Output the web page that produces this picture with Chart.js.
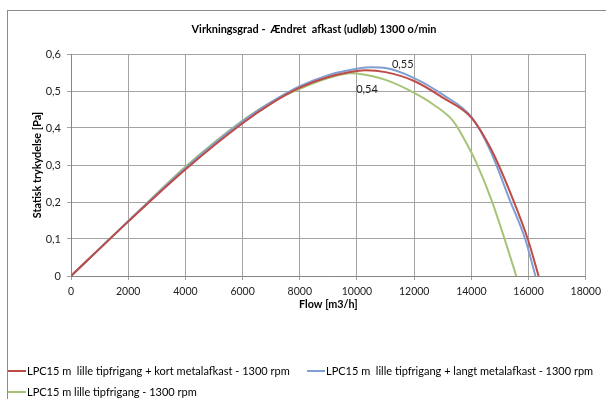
<!DOCTYPE html>
<html><head><meta charset="utf-8">
<script src="https://cdn.jsdelivr.net/npm/chart.js@4"></script>
<style>
html,body{margin:0;padding:0;background:#fff;}
#wrap{position:relative;width:606px;height:399px;overflow:hidden;background:#fff;}
#frame{position:absolute;left:7px;top:10px;width:640px;height:440px;border-left:1px solid #8c8c8c;border-top:1px solid #8c8c8c;}
canvas{position:absolute;left:0;top:0;}
.txt{position:absolute;font-family:Lato,"Open Sans",sans-serif;white-space:pre;color:#000;line-height:12px;}
#title{left:0;width:628px;text-align:center;top:23px;font-size:10.9px;font-weight:bold;}
.leg{font-size:11px;display:flex;align-items:center;height:12px;}
.leg i{display:inline-block;width:18px;height:2px;margin-right:1px;}
</style></head>
<body>
<div id="wrap">
  <div id="frame"></div>
  <canvas id="c" width="606" height="399"></canvas>
  <div id="title" class="txt"></div>
  <div id="legend"></div>
</div>
<script>
// ---- data ----
const seriesNames = [
  'LPC15 m  lille tipfrigang + kort metalafkast - 1300 rpm',
  'LPC15 m  lille tipfrigang + langt metalafkast - 1300 rpm',
  'LPC15 m lille tipfrigang - 1300 rpm'
];
const redFlow  = [0, 2000, 4000, 6000, 7000, 8000, 9000, 10000, 10300, 11000, 12000, 13000, 14000, 14700, 15460, 15980, 16350];
const redEff   = [0, 0.147, 0.288, 0.413, 0.466, 0.509, 0.538, 0.554, 0.556, 0.551, 0.527, 0.482, 0.428, 0.341, 0.206, 0.098, 0];
const blueFlow = [0, 2000, 4000, 6000, 7000, 8000, 9000, 10000, 10500, 11000, 12000, 13000, 14000, 14650, 15340, 15890, 16240];
const blueEff  = [0, 0.148, 0.292, 0.418, 0.470, 0.513, 0.543, 0.560, 0.564, 0.562, 0.535, 0.490, 0.430, 0.341, 0.206, 0.098, 0];
const greenFlow = [0, 2000, 4000, 6000, 7000, 8000, 9000, 9800, 10000, 11000, 12000, 12680, 13370, 13890, 14180, 14700, 15170, 15570];
const greenEff  = [0, 0.148, 0.295, 0.420, 0.470, 0.506, 0.535, 0.548, 0.547, 0.530, 0.495, 0.463, 0.418, 0.350, 0.305, 0.206, 0.098, 0];
const yTickLabels = ['0', '0,1', '0,2', '0,3', '0,4', '0,5', '0,6'];
const xTickLabels = ['0','2000','4000','6000','8000','10000','12000','14000','16000','18000'];
const dataLabels = [
  {text: '0,55', flow: 11600, eff: 0.572},
  {text: '0,54', flow: 10350, eff: 0.503}
];
const chartTitle = 'Virkningsgrad -  Ændret  afkast (udløb) 1300 o/min';
const xTitle = 'Flow [m3/h]';
const yTitle = 'Statisk trykydelse [Pa]';

const colors = ['#BE4B48', '#7F9ED2', '#A6C477'];
const FONT = 'Lato, "Open Sans", sans-serif';

function pts(xs, ys){ return xs.map((x,i)=>({x:x, y:ys[i]})); }

document.getElementById('title').textContent = chartTitle;
// legend
const legend = document.getElementById('legend');
const legPos = [{l:8, t:365}, {l:307, t:365}, {l:8, t:386}];
seriesNames.forEach((n,i)=>{
  const d = document.createElement('div');
  d.className = 'txt leg';
  d.style.left = legPos[i].l + 'px';
  d.style.top = legPos[i].t + 'px';
  const sw = document.createElement('i');
  sw.style.background = colors[i];
  d.appendChild(sw);
  d.appendChild(document.createTextNode(n));
  legend.appendChild(d);
});

const labelPlugin = {
  id: 'dataLabels',
  afterDatasetsDraw(chart){
    const {ctx, scales:{x, y}} = chart;
    ctx.save();
    ctx.font = '11px ' + FONT;
    ctx.fillStyle = '#222';
    ctx.textAlign = 'center';
    ctx.textBaseline = 'middle';
    dataLabels.forEach(l => ctx.fillText(l.text, x.getPixelForValue(l.flow), y.getPixelForValue(l.eff)));
    ctx.restore();
  }
};

new Chart(document.getElementById('c'), {
  type: 'line',
  data: {
    datasets: [
      {label: seriesNames[0], data: pts(redFlow, redEff), borderColor: colors[0]},
      {label: seriesNames[1], data: pts(blueFlow, blueEff), borderColor: colors[1]},
      {label: seriesNames[2], data: pts(greenFlow, greenEff), borderColor: colors[2]}
    ].map(d => Object.assign(d, {borderWidth: 2, pointRadius: 0, fill: false, cubicInterpolationMode: 'monotone'}))
  },
  options: {
    responsive: false,
    animation: false,
    events: [],
    layout: {padding: {left: 0, right: 16, top: 54, bottom: 83}},
    plugins: {legend: {display: false}, tooltip: {enabled: false}, title: {display: false}},
    scales: {
      x: {
        type: 'linear', min: 0, max: 18000,
        afterFit(s){ s.height = 40; },
        afterBuildTicks(s){ s.ticks = xTickLabels.map(v => ({value: Number(v)})); },
        ticks: {font: {family: FONT, size: 10.5}, color: '#222', padding: 5, maxRotation: 0,
                callback: (v, i) => xTickLabels[i]},
        grid: {color: '#a3a3a3', tickLength: 4, lineWidth: 1},
        border: {color: '#868686'},
        title: {display: true, text: xTitle, font: {family: FONT, size: 10.8, weight: 'bold'}, color: '#000', padding: {top: 0, bottom: 5}}
      },
      y: {
        min: 0, max: 0.6,
        afterFit(s){ s.width = 71; },
        afterBuildTicks(s){ s.ticks = yTickLabels.map((t, i) => ({value: i / 10})); },
        ticks: {font: {family: FONT, size: 11}, color: '#222', padding: 6,
                callback: (v, i) => yTickLabels[i]},
        grid: {color: '#a3a3a3', tickLength: 4, lineWidth: 1},
        border: {color: '#868686'},
        title: {display: true, text: yTitle, font: {family: FONT, size: 10.8, weight: 'bold'}, color: '#000', padding: {top: 31, bottom: 0}}
      }
    }
  },
  plugins: [labelPlugin]
});
</script>
</body></html>
